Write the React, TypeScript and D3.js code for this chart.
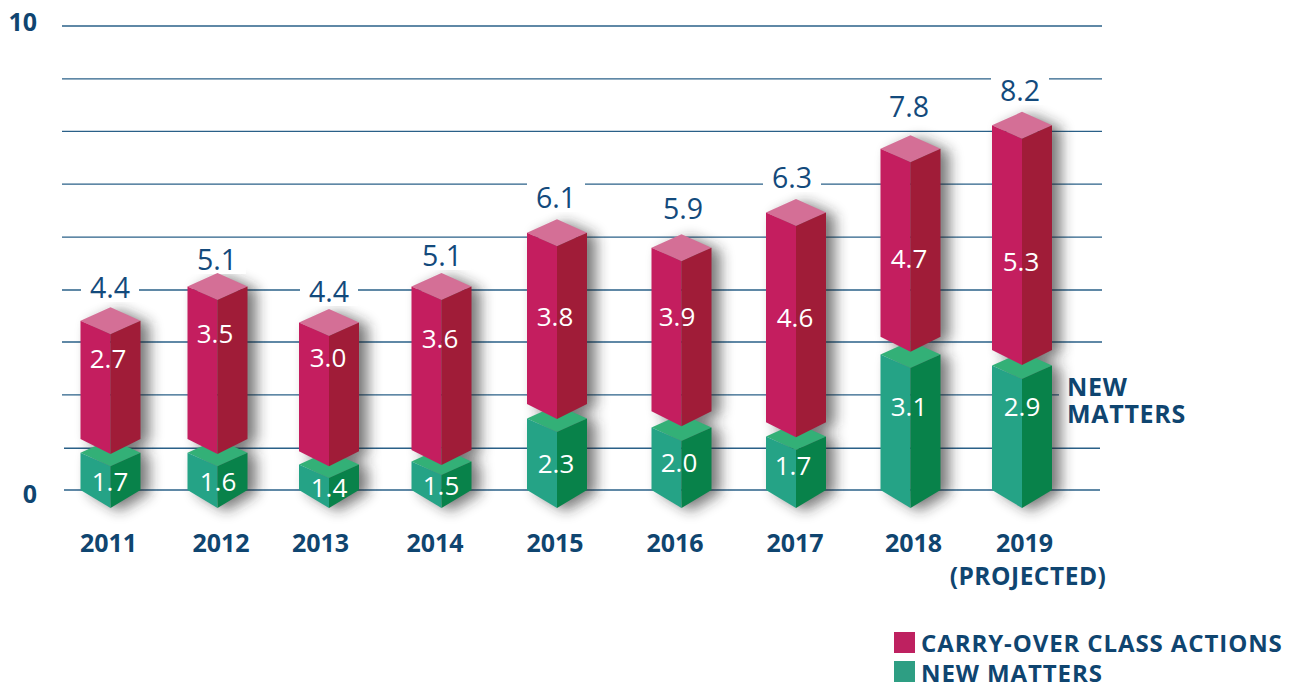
import React from "react";
import * as d3 from "d3";

// ---- data ----
const years = ["2011", "2012", "2013", "2014", "2015", "2016", "2017", "2018", "2019"];
const totals = ["4.4", "5.1", "4.4", "5.1", "6.1", "5.9", "6.3", "7.8", "8.2"];
const carryOver = ["2.7", "3.5", "3.0", "3.6", "3.8", "3.9", "4.6", "4.7", "5.3"];
const newMatters = ["1.7", "1.6", "1.4", "1.5", "2.3", "2.0", "1.7", "3.1", "2.9"];
// the artwork is not drawn to scale: extents as drawn, in artwork units
const drawnNewTop = [0.95, 0.95, 0.68, 0.75, 1.73, 1.52, 1.32, 3.18, 2.93];
const drawnCarryBase = [1.23, 1.23, 0.95, 0.98, 2.02, 1.86, 1.61, 3.55, 3.25];
const drawnCarryTop = [3.95, 4.73, 3.91, 4.73, 5.95, 5.61, 6.41, 7.86, 8.39];
const gridValues = [0, 0.9, 2.05, 3.19, 4.31, 5.45, 6.59, 7.73, 8.86, 10];
const axisLabels = [0, 10];

// ---- layout ----
const W = 1294, H = 685;
const FONT = "'Open Sans', 'Noto Sans', sans-serif";
const NAVY = "#0f4570";
const BLUE = "#134a7c";
const yAxis = d3.scaleLinear().domain([0, 10]).range([490, 26]);
const yBar = d3.scaleLinear().domain([0, 10]).range([508, 68]);
const xBar = d3.scaleOrdinal<string, number>().domain(years).range([110.5, 217.5, 329, 441.5, 557, 681.5, 796, 910.5, 1022]);
const xYear = d3.scaleOrdinal<string, number>().domain(years).range([108.5, 221, 320.5, 435, 555, 675, 795, 913.5, 1024.5]);
const HALF = 30, DY_TOP = 13.5, DY_RED = 15, DY_GREEN = 18;

// label placement, per column
const totalX = [110, 217, 329, 442, 556, 683, 792, 909, 1020];
const totalY = [298, 270, 302, 266, 208, 219, 188, 117, 101];
const carryX = [108, 215, 328, 440, 555, 677, 795, 909, 1021];
const carryY = [368, 343, 367, 348, 326, 326, 327, 268, 271];
const newX = [110, 218, 329, 441, 556, 679, 793, 909, 1022];
const newY = [491, 491, 497, 495, 473, 472, 475, 416, 416];

const poly = d3.line<[number, number]>().x((d) => d[0]).y((d) => d[1]);
const path = (p: [number, number][]) => poly(p) + "Z";

const C = {
  redL: "#c41e5f", redR: "#a01c38", redT: "#d46f96",
  grnL: "#25a386", grnR: "#08824a", grnT: "#33b077",
};

function Block({ cx, top, bottom, dyB, left, right, cap }: any) {
  const l = cx - HALF, r = cx + HALF;
  return (
    <g>
      <path d={path([[l, top - DY_TOP], [cx, top - 2 * DY_TOP], [r, top - DY_TOP], [cx, top]])} fill={cap} />
      <path d={path([[l, top - DY_TOP], [cx, top], [cx, bottom], [l, bottom - dyB]])} fill={left} />
      <path d={path([[cx, top], [r, top - DY_TOP], [r, bottom - dyB], [cx, bottom]])} fill={right} />
    </g>
  );
}

function silhouette(cx: number, top: number, bottom: number, dyB: number) {
  const l = cx - HALF, r = cx + HALF;
  return path([[l, top - DY_TOP], [cx, top - 2 * DY_TOP], [r, top - DY_TOP], [r, bottom - dyB], [cx, bottom], [l, bottom - dyB]]);
}

export default function App() {
  return (
    <svg width={W} height={H} viewBox={`0 0 ${W} ${H}`} style={{ position: "absolute", left: 0, top: 0, background: "#fff" }} fontFamily={FONT}>
      <defs>
        <filter id="shadow" x="-50%" y="-20%" width="200%" height="140%">
          <feGaussianBlur stdDeviation="7" />
        </filter>
      </defs>

      {gridValues.map((v) => (
        <line key={v} x1={v < 1 ? 64 : 62} x2={v < 1 ? 1100 : 1102} y1={yAxis(v)} y2={yAxis(v)} stroke="#2a6088" strokeWidth={1.3} />
      ))}
      <rect x={1059} y={375} width={135} height={55} fill="#fff" />

      <g filter="url(#shadow)" fill="#222" opacity={0.6} transform="translate(9,3)">
        {years.map((y, i) => (
          <g key={y}>
            <path d={silhouette(xBar(y), yBar(drawnCarryTop[i]), yBar(drawnCarryBase[i]), DY_RED)} />
            <path d={silhouette(xBar(y), yBar(drawnNewTop[i]), yBar(0), DY_GREEN)} />
          </g>
        ))}
      </g>

      {years.map((y, i) => (
        <g key={y}>
          <rect x={totalX[i] - 29} y={totalY[i] - 26} width={58} height={30} fill="#fff" />
          <Block cx={xBar(y)} top={yBar(drawnNewTop[i])} bottom={yBar(0)} dyB={DY_GREEN} left={C.grnL} right={C.grnR} cap={C.grnT} />
          <Block cx={xBar(y)} top={yBar(drawnCarryTop[i])} bottom={yBar(drawnCarryBase[i])} dyB={DY_RED} left={C.redL} right={C.redR} cap={C.redT} />
          <text x={totalX[i]} y={totalY[i]} textAnchor="middle" fontSize={28.5} fontWeight={500} fill={BLUE}>{totals[i]}</text>
          <text x={carryX[i]} y={carryY[i]} textAnchor="middle" fontSize={26} fontWeight={500} fill="#fff">{carryOver[i]}</text>
          <text x={newX[i]} y={newY[i]} textAnchor="middle" fontSize={26} fontWeight={500} fill="#fff">{newMatters[i]}</text>
          <text x={xYear(y)} y={552} textAnchor="middle" fontSize={25} fontWeight={700} fill={NAVY}>{y}</text>
        </g>
      ))}

      <text x={1028} y={585} textAnchor="middle" fontSize={24.5} letterSpacing={0.5} fontWeight={700} fill={NAVY}>(PROJECTED)</text>
      <text x={37} y={31} textAnchor="end" fontSize={25} fontWeight={700} fill={NAVY}>{axisLabels[1]}</text>
      <text x={37} y={503} textAnchor="end" fontSize={25} fontWeight={700} fill={NAVY}>{axisLabels[0]}</text>

      <text x={1067} y={396} fontSize={25} letterSpacing={0.7} fontWeight={700} fill={NAVY}>NEW</text>
      <text x={1067} y={423} fontSize={25} letterSpacing={0.7} fontWeight={700} fill={NAVY}>MATTERS</text>

      <rect x={894} y={632} width={21} height={21} fill="#be2160" />
      <text x={921} y={652} fontSize={24} letterSpacing={0.9} fontWeight={700} fill={NAVY}>CARRY-OVER CLASS ACTIONS</text>
      <rect x={894} y={661} width={21} height={21} fill="#2e9e83" />
      <text x={921} y={682} fontSize={24} letterSpacing={0.9} fontWeight={700} fill={NAVY}>NEW MATTERS</text>
    </svg>
  );
}
